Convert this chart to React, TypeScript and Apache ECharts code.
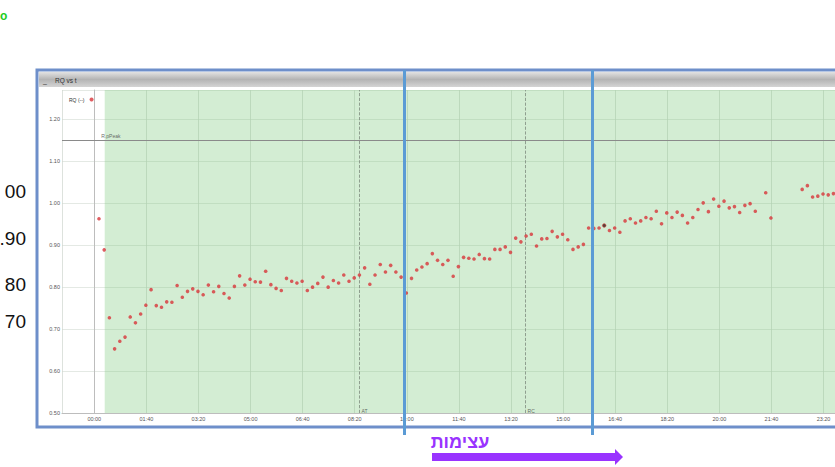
import React, { useEffect, useRef } from "react";
import * as echarts from "echarts";

// RQ samples, one every 10 minutes starting at minute 9 (null = no sample shown)
const START_MIN = 9;
const STEP_MIN = 10;
const RQ: (number | null)[] = [
  0.963, 0.889, 0.727, 0.653, 0.671, 0.681, 0.729, 0.715, 0.736, 0.757,
  0.794, 0.756, 0.752, 0.765, 0.764, 0.804, 0.776, 0.790, 0.796, 0.790,
  0.782, 0.805, 0.789, 0.802, 0.785, 0.774, 0.802, 0.827, 0.805, 0.819,
  0.813, 0.812, 0.838, 0.806, 0.797, 0.792, 0.821, 0.814, 0.810, 0.814,
  0.792, 0.800, 0.809, 0.824, 0.800, 0.816, 0.810, 0.829, 0.814, 0.822,
  0.829, 0.846, 0.807, 0.829, 0.854, 0.836, 0.852, 0.836, 0.824, 0.786,
  0.821, 0.841, 0.848, 0.856, 0.880, 0.864, 0.854, 0.864, 0.826, 0.849,
  0.871, 0.869, 0.867, 0.878, 0.868, 0.867, 0.890, 0.890, 0.896, 0.883,
  0.917, 0.908, 0.922, 0.926, 0.898, 0.915, 0.916, 0.933, 0.920, 0.926,
  0.913, 0.890, 0.896, 0.902, 0.941, 0.940, 0.941, 0.947, 0.935, 0.941,
  0.931, 0.958, 0.963, 0.953, 0.958, 0.966, 0.963, 0.981, 0.951, 0.977,
  0.966, 0.979, 0.971, 0.953, 0.966, 0.985, 1.001, 0.980, 1.010, 0.993,
  1.005, 0.989, 0.992, 0.978, 0.995, 0.999, 0.981, null, 1.025, 0.965,
  null, null, null, null, null, 1.033, 1.042, 1.015, 1.017, 1.022,
  1.020, 1.023,
];
const HIGHLIGHT_INDEX = 97; // the darker (selected) sample

const X_MIN = -62;
const X_MAX = 1422;
const Y_MIN = 0.5;
const Y_MAX = 1.27;
const Y_STEP = 0.1;
const GREEN_START = 20;
const PEAK_VALUE = 1.15;
const PEAK_LABEL = "R.pPeak";
const EVENTS = [
  { name: "AT", t: 509 },
  { name: "RC", t: 828 },
];
const SERIES_NAME = "RQ (--)";
const WINDOW_TITLE = "RQ vs t";
const SLIDE_LABELS = ["00", ".90", "80", "70"];
const SLIDE_TITLE = "עצימות";

const FONT = "'Liberation Sans', Arial, 'DejaVu Sans', sans-serif";

function fmtTime(v: number) {
  const h = Math.floor(v / 60);
  const m = Math.round(v - h * 60);
  return String(h).padStart(2, "0") + ":" + String(m).padStart(2, "0");
}

export default function App() {
  const ref = useRef<HTMLDivElement>(null);
  useEffect(() => {
    if (!ref.current) return;
    const chart = echarts.init(ref.current, undefined, { renderer: "svg" });

    const points: any[] = [];
    RQ.forEach((v, i) => {
      if (v == null) return;
      const item: any = { value: [START_MIN + STEP_MIN * i, v] };
      if (i === HIGHLIGHT_INDEX) {
        item.itemStyle = { color: "#3a1414", borderColor: "#d8403c", borderWidth: 0.8 };
      }
      points.push(item);
    });

    const slideLabelY = [191, 238, 284, 321];

    chart.setOption({
      animation: false,
      backgroundColor: "#ffffff",
      textStyle: { fontFamily: FONT },
      grid: { left: 62, top: 90, right: 0, height: 323, containLabel: false, outerBoundsMode: "none" },
      legend: {
        data: [SERIES_NAME],
        left: 64,
        top: 92,
        icon: "circle",
        itemWidth: 4,
        itemHeight: 4,
        align: "right",
        textStyle: { fontSize: 5, color: "#333", fontFamily: FONT },
        selectedMode: false,
      },
      xAxis: {
        type: "value",
        min: X_MIN,
        max: X_MAX,
        splitNumber: 15,
        axisLine: { show: true, lineStyle: { color: "#bdbdbd", width: 1 } },
        axisTick: { show: false },
        axisLabel: {
          showMinLabel: false,
          showMaxLabel: false,
          fontSize: 5.5,
          color: "#555",
          margin: 3,
          fontFamily: FONT,
          formatter: (v: number) => fmtTime(v),
        },
        splitLine: { show: true, lineStyle: { color: "#cfd6cf", width: 0.7, type: "solid" } },
      },
      yAxis: {
        type: "value",
        min: Y_MIN,
        max: Y_MAX,
        interval: Y_STEP,
        axisLine: { show: true, lineStyle: { color: "#bdbdbd", width: 1 } },
        axisTick: { show: false },
        axisLabel: {
          showMaxLabel: false,
          fontSize: 5.5,
          color: "#555",
          margin: 2,
          fontFamily: FONT,
          formatter: (v: number) => v.toFixed(2),
        },
        splitLine: { show: true, lineStyle: { color: "#d9dfd9", width: 0.7 } },
      },
      series: [
        {
          name: SERIES_NAME,
          type: "scatter",
          data: points,
          symbol: "circle",
          symbolSize: 3.6,
          itemStyle: { color: "#d8353a" },
          z: 5,
          markArea: {
            silent: true,
            itemStyle: { color: "rgba(120,200,120,0.33)" },
            data: [[{ xAxis: GREEN_START, yAxis: Y_MIN }, { xAxis: X_MAX, yAxis: Y_MAX }]],
          },
          markLine: {
            silent: true,
            symbol: "none",
            label: { show: false },
            data: [
              { yAxis: PEAK_VALUE, lineStyle: { color: "#8a8a8a", width: 1.2, type: "solid" } },
              ...EVENTS.map((e) => ({
                xAxis: e.t,
                lineStyle: { color: "#7d8a7d", width: 0.8, type: "dashed" },
              })),
            ],
          },
        },
        {
          name: "labels",
          type: "scatter",
          silent: true,
          symbolSize: 0,
          z: 6,
          data: [
            { value: [0, PEAK_VALUE], name: PEAK_LABEL, label: { position: [7, -7] } },
            ...EVENTS.map((e) => ({ value: [e.t, Y_MIN], name: e.name, label: { position: [2, -5] } })),
          ],
          label: {
            show: true,
            formatter: (p: any) => p.name,
            fontSize: 5,
            color: "#444",
            fontFamily: FONT,
          },
        },
      ],
      graphic: [
        // slide overlay frame
        {
          type: "rect",
          z: 50,
          silent: true,
          shape: { x: 37, y: 70, width: 860, height: 357 },
          style: { fill: "none", stroke: "#6e8fca", lineWidth: 3 },
        },
        {
          type: "rect",
          z: 49,
          silent: true,
          shape: { x: 39, y: 72, width: 840, height: 15 },
          style: {
            fill: new echarts.graphic.LinearGradient(0, 0, 0, 1, [
              { offset: 0, color: "#e2e2e2" },
              { offset: 0.5, color: "#b4b4b4" },
              { offset: 1, color: "#d4d4d4" },
            ]),
          },
        },
        {
          type: "text",
          z: 51,
          x: 43,
          y: 80,
          style: { text: "_", fill: "#333", fontSize: 7, fontFamily: FONT, verticalAlign: "middle" },
        },
        {
          type: "text",
          z: 51,
          x: 55,
          y: 80,
          style: { text: WINDOW_TITLE, fill: "#333", fontSize: 6.5, fontFamily: FONT, verticalAlign: "middle" },
        },
        // highlight bars
        {
          type: "line",
          z: 100,
          silent: true,
          shape: { x1: 404.5, y1: 70, x2: 404.5, y2: 435 },
          style: { stroke: "#5b9bd5", lineWidth: 3 },
        },
        {
          type: "line",
          z: 100,
          silent: true,
          shape: { x1: 592.5, y1: 70, x2: 592.5, y2: 435 },
          style: { stroke: "#5b9bd5", lineWidth: 3 },
        },
        // slide fragments at left
        ...SLIDE_LABELS.map((t, i) => ({
          type: "text",
          z: 60,
          x: 26,
          y: slideLabelY[i],
          style: {
            text: t,
            fill: "#111",
            fontSize: 19,
            fontFamily: FONT,
            align: "right",
            verticalAlign: "middle",
          },
        })),
        {
          type: "text",
          z: 60,
          x: 0,
          y: 16,
          style: {
            text: "o",
            fill: "#22cc22",
            fontSize: 12,
            fontWeight: "bold",
            fontFamily: FONT,
            verticalAlign: "middle",
          },
        },
        {
          type: "text",
          z: 60,
          x: 460,
          y: 442,
          style: {
            text: SLIDE_TITLE,
            fill: "#9933ff",
            fontSize: 18,
            fontWeight: "bold",
            fontFamily: FONT,
            align: "center",
            verticalAlign: "middle",
          },
        },
        {
          type: "polygon",
          z: 60,
          silent: true,
          shape: {
            points: [
              [432, 453],
              [615, 453],
              [615, 449],
              [623, 457],
              [615, 465],
              [615, 461],
              [432, 461],
            ],
          },
          style: { fill: "#9933ff" },
        },
      ],
    });
    return () => chart.dispose();
  }, []);
  return (
    <div
      ref={ref}
      style={{ position: "fixed", left: 0, top: 0, width: 835, height: 467, overflow: "hidden" }}
    />
  );
}
